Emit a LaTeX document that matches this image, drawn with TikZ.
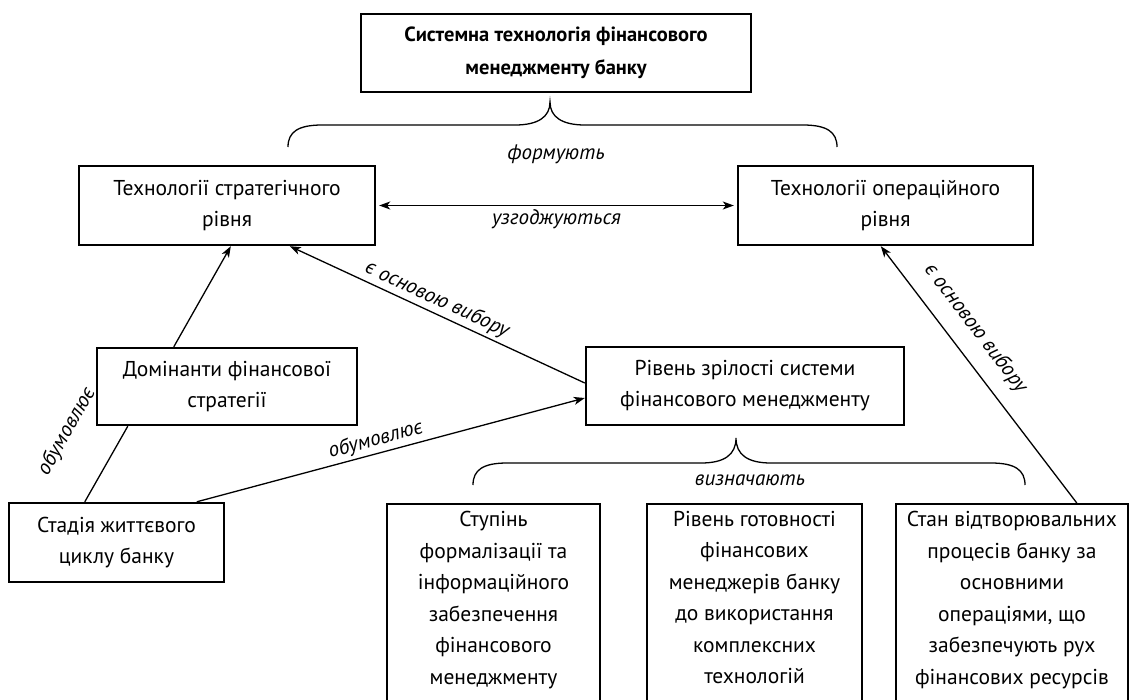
\documentclass[tikz,border=0pt]{standalone}
\usepackage{fontspec}
\setmainfont{PT Sans}
\usetikzlibrary{arrows.meta,calc}
\newcommand\btext[2]{\parbox[c][220pt][t]{#1}{\centering\vspace*{7pt}#2}}
\begin{document}
\begin{tikzpicture}[x=1pt,y=-1pt,
  box/.style={draw, line width=2.4pt, inner sep=0pt, align=center, font=\fontsize{21.5}{31}\selectfont},
  bbox/.style={box, anchor=north, font=\fontsize{21.5}{31.5}\selectfont},
  conn/.style={line width=1.3pt},
  arr/.style={conn, -{Stealth[length=11pt,width=8pt,inset=3pt]}},
  lbl/.style={font=\itshape\fontsize{21}{25}\selectfont, inner sep=2pt},
]
\useasboundingbox (0,0) rectangle (1130,699);
\clip (0,0) rectangle (1130,699);

\node[box, minimum width=390pt, minimum height=78pt, font=\bfseries\fontsize{20.5}{33}\selectfont] (top) at (556,53) {Системна технологія фінансового\\менеджменту банку};
\node[box, minimum width=296pt, minimum height=79pt] (L) at (227,205.5) {Технології стратегічного\\рівня};
\node[box, minimum width=295pt, minimum height=79pt] (R) at (885.5,205.5) {Технології операційного\\рівня};
\node[box, minimum width=260pt, minimum height=77pt] (D) at (227,386.5) {Домінанти фінансової\\стратегії};
\node[box, minimum width=318pt, minimum height=78pt] (M) at (745,386) {Рівень зрілості системи\\фінансового менеджменту};
\node[box, minimum width=215pt, minimum height=79pt] (S) at (116.5,542.5) {Стадія життєвого\\циклу банку};

\node[bbox] (B1) at (493.5,503) {\btext{213pt}{Ступінь\\формалізації та\\інформаційного\\забезпечення\\фінансового\\менеджменту}};
\node[bbox] (B2) at (754.5,503) {\btext{215pt}{Рівень готовності\\фінансових\\менеджерів банку\\до використання\\комплексних\\технологій}};
\node[bbox] (B3) at (1012,503) {\btext{232pt}{Стан відтворювальних\\процесів банку за\\основними\\операціями, що\\забезпечують рух\\фінансових ресурсів}};

% braces
\draw[conn] (288,147) .. controls (288,132) and (298,125) .. (322,125) -- (515,125) .. controls (538,125) and (550,117) .. (550,102) .. controls (550,117) and (562,125) .. (585,125) -- (803,125) .. controls (827,125) and (837,132) .. (837,147);
\node[lbl] (f1) at (556,154) {формують};
\draw[conn] (473,485) .. controls (473,470) and (483,463) .. (507,463) -- (701,463) .. controls (724,463) and (736,455) .. (736,438) .. controls (736,455) and (748,463) .. (771,463) -- (991,463) .. controls (1015,463) and (1025,470) .. (1025,485);
\node[lbl] (f2) at (750,480) {визначають};

% connectors
\draw[conn, {Stealth[length=11pt,width=8pt,inset=3pt]}-{Stealth[length=11pt,width=8pt,inset=3pt]}] ([xshift=3pt]L.east) -- ([xshift=-3pt]R.west) node[lbl, midway, below=1pt] {узгоджуються};
\draw[conn] ([xshift=77pt]S.north west) -- ([xshift=32pt]D.south west) node[lbl, pos=0.6, sloped, above=38pt] {обумовлює};
\draw[arr] ([xshift=78pt]D.north west) -- ([xshift=153pt]L.south west);
\draw[arr] ([xshift=189pt]S.north west) -- ([yshift=-12pt]M.west) node[lbl, pos=0.47, sloped, above=1pt] {обумовлює};
\draw[arr] ([yshift=3pt]M.west) -- ([xshift=212pt]L.south west) node[lbl, pos=0.52, sloped, above=1pt] {є основою вибору};
\draw[arr] ([xshift=182pt]B3.north west) -- ([xshift=144pt]R.south west) node[lbl, pos=0.62, sloped, above=13pt] {є основою вибору};
\end{tikzpicture}
\end{document}
